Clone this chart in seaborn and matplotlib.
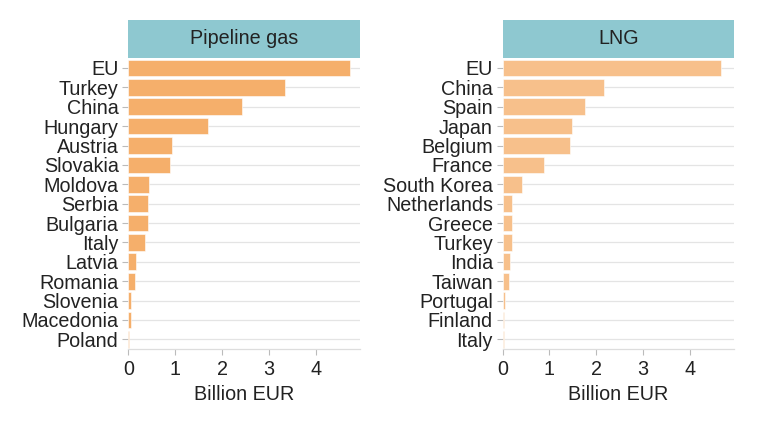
import matplotlib
matplotlib.use("Agg")
import matplotlib.pyplot as plt
import seaborn as sns
import pandas as pd
from matplotlib.patches import Rectangle

pipeline_countries = ["EU", "Turkey", "China", "Hungary", "Austria", "Slovakia", "Moldova",
                      "Serbia", "Bulgaria", "Italy", "Latvia", "Romania", "Slovenia",
                      "Macedonia", "Poland"]
pipeline_values = [4.72, 3.35, 2.43, 1.69, 0.94, 0.88, 0.44, 0.42, 0.41, 0.36, 0.165, 0.15,
                   0.05, 0.05, 0.005]

lng_countries = ["EU", "China", "Spain", "Japan", "Belgium", "France", "South Korea",
                 "Netherlands", "Greece", "Turkey", "India", "Taiwan", "Portugal",
                 "Finland", "Italy"]
lng_values = [4.66, 2.17, 1.75, 1.49, 1.43, 0.88, 0.42, 0.21, 0.21, 0.20, 0.16, 0.13,
              0.055, 0.03, 0.02]

panel_titles = ["Pipeline gas", "LNG"]
x_ticks = [0, 1, 2, 3, 4]
x_label = "Billion EUR"

sns.set_theme(style="white")
plt.rcParams["font.family"] = ["Liberation Sans", "DejaVu Sans"]

fig = plt.figure(figsize=(7.6, 4.21), dpi=100)
ax1 = fig.add_axes([0.1688, 0.171, 0.3049, 0.6905])
ax2 = fig.add_axes([0.6614, 0.171, 0.3044, 0.6905])

panels = [
    (ax1, pipeline_countries, pipeline_values, "#F5AF6B"),
    (ax2, lng_countries, lng_values, "#F7C08B"),
]

text_color = "#222222"
fs = 14.2
for (ax, cats, vals, col), title in zip(panels, panel_titles):
    df = pd.DataFrame({"country": cats, "value": vals})
    sns.barplot(data=df, x="value", y="country", ax=ax, color=col, saturation=1,
                width=0.86, edgecolor="white", linewidth=0.4, orient="h")
    ax.set_xlim(0, 4.94)
    ax.set_ylim(14.5, -0.5)
    ax.set_xticks(x_ticks)
    ax.set_xticklabels([str(t) for t in x_ticks])
    ax.yaxis.grid(True, color="#e4e4e4", lw=0.9)
    ax.xaxis.grid(False)
    ax.set_axisbelow(True)
    for s in ["top", "right", "left"]:
        ax.spines[s].set_visible(False)
    ax.spines["bottom"].set_color("#dddddd")
    ax.spines["bottom"].set_linewidth(0.9)
    ax.tick_params(axis="both", which="both", length=4, width=0.8, color="#bbbbbb",
                   labelsize=fs, labelcolor=text_color)
    ax.tick_params(axis="y", pad=3)
    ax.tick_params(axis="x", pad=4)
    ax.tick_params(left=True, bottom=True)
    ax.set_ylabel("")
    ax.set_xlabel(x_label, fontsize=fs, color=text_color, labelpad=4)
    rect = Rectangle((0, 1.0), 1, 0.131, transform=ax.transAxes, clip_on=False,
                     facecolor="#8EC8D0", edgecolor="none")
    ax.add_patch(rect)
    ax.text(0.5, 1.068, title, transform=ax.transAxes, ha="center", va="center",
            fontsize=fs, color=text_color)

fig.savefig("out.png", dpi=100, facecolor="white")
